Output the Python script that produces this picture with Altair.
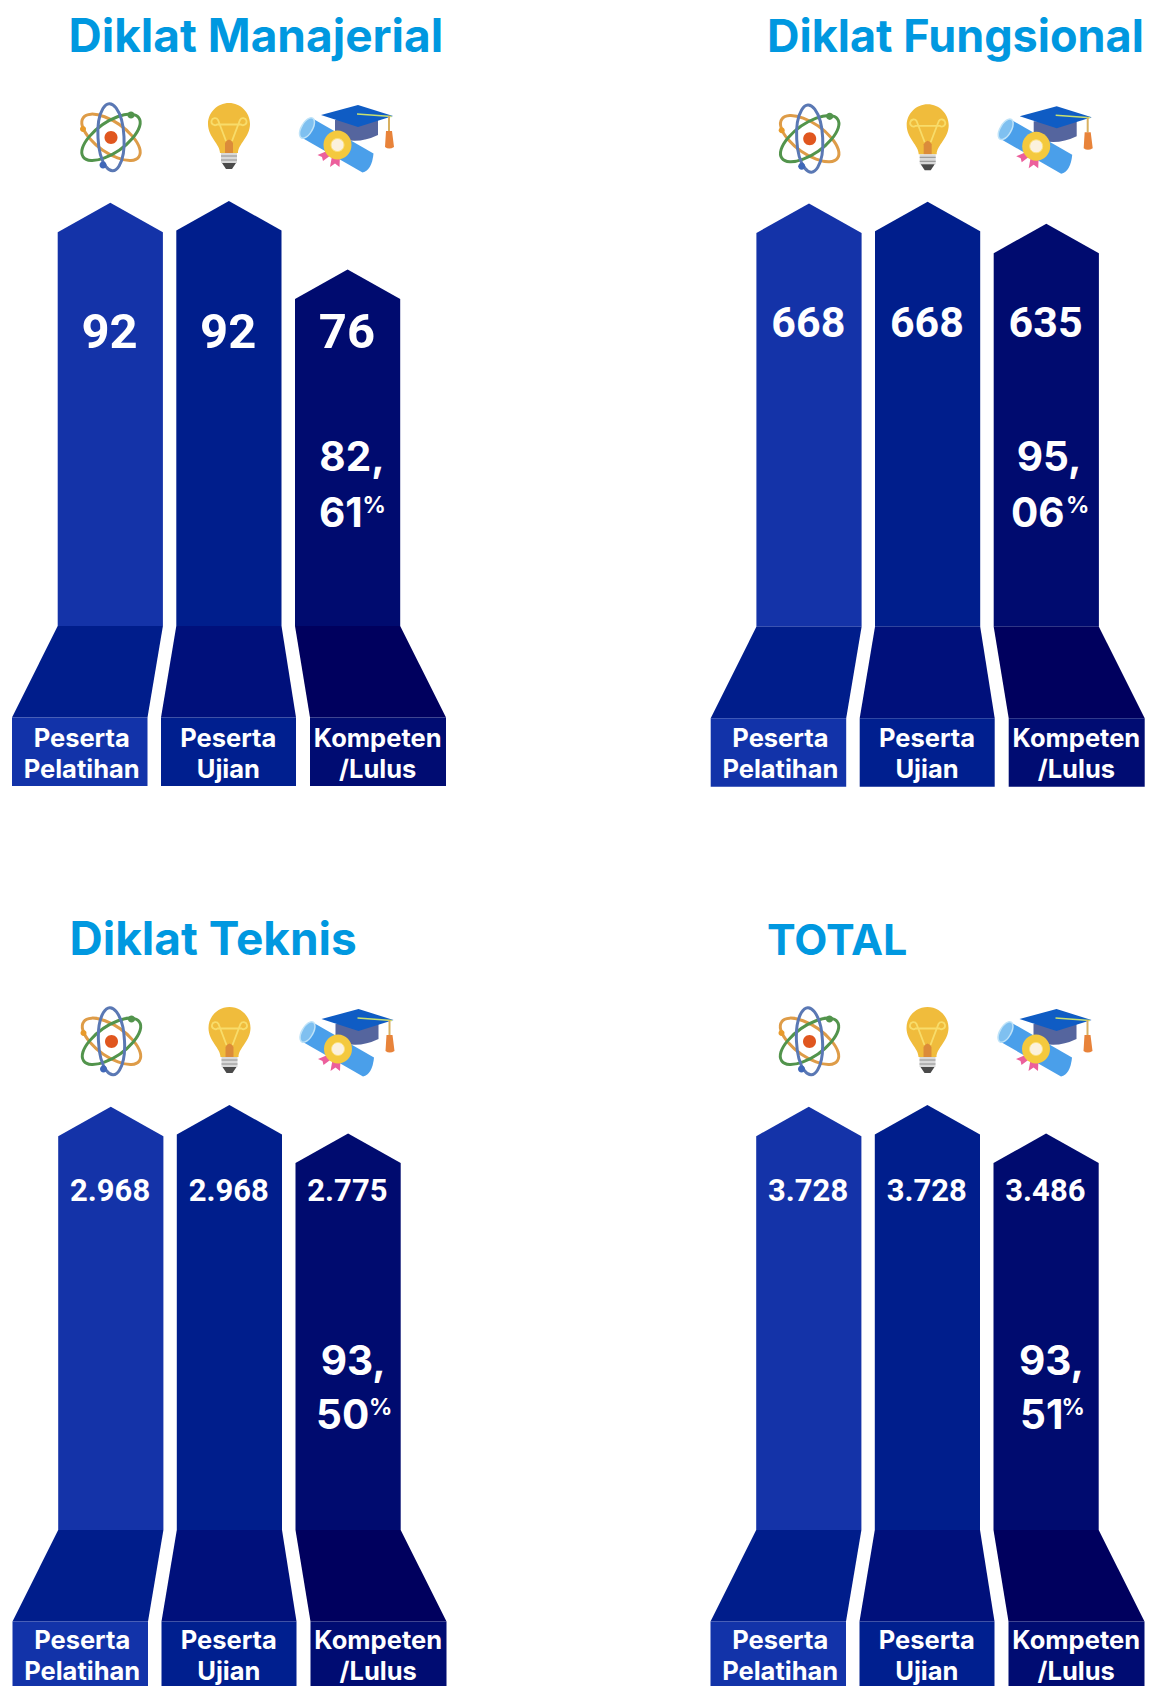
import math
import altair as alt
import pandas as pd

# ---- content ----
panel_titles = ["Diklat Manajerial", "Diklat Fungsional", "Diklat Teknis", "TOTAL"]
peserta_pelatihan = ["92", "668", "2.968", "3.728"]
peserta_ujian = ["92", "668", "2.968", "3.728"]
kompeten = ["76", "635", "2.775", "3.486"]
pct_line1 = ["82,", "95,", "93,", "93,"]
pct_line2 = ["61", "06", "50", "51"]
share_of_peserta = [84.1, 95.06, 93.5, 93.5]   # height of the third arrow
label_line1 = ["Peserta", "Peserta", "Kompeten"]
label_line2 = ["Pelatihan", "Ujian", "/Lulus"]

# ---- layout ----
panel_dx = [0, 698.7, 0.5, 698.5]
panel_dy = [0, 0.7, 903.4, 903.4]
value_size = [49, 43, 31, 31]
value_base = [348, 336.5, 1201, 1201]
title_size = [46, 45, 46, 43]
title_left = [68.5, 767, 69.5, 767]
title_base = [52.2, 52.2, 954.5, 954.5]
pct1_left = [319.3, 1016.7, 320.7, 1019]
pct2_left = [319, 1011, 316, 1020]
pctm_left = [362.5, 1066, 369, 1061.5]
bar_left = [57.7, 176.3, 295]
bar_w = 105.2
foot_left = [12, 161, 310]
foot_right = [147.5, 296, 446]
label_c = [81.7, 228.3, 377.7]
BASE, HEAD, PX_PER_PCT = 626.0, 29.5, 4.24
FOOT_TOP, FOOT_BOT = 717.5, 786.0
col_bar = ["#1433A8", "#001E8C", "#000B6F"]
col_foot = ["#001D8B", "#00107B", "#00005E"]
col_rect = ["#1233A9", "#001F8F", "#000C72"]
TITLE_BLUE = "#0098E0"
FONT = "Inter"
VALUE_FONT = "Roboto"

arrows, feet, rects, titles, values, pcts, pctm, labels = [], [], [], [], [], [], [], []
for p in range(4):
    dx, dy = panel_dx[p], panel_dy[p]
    low = 0.6 if p >= 2 else 0
    titles.append(dict(x=title_left[p], y=title_base[p], t=panel_titles[p], size=title_size[p]))
    shares = [100, 100, share_of_peserta[p]]
    cols = [peserta_pelatihan[p], peserta_ujian[p], kompeten[p]]
    for c in range(3):
        l = bar_left[c] + dx
        tip = BASE + dy - shares[c] * PX_PER_PCT - (1 if c == 1 else 0) + (0.7 if c == 0 else 0) + low
        for px, py in [(l, tip + HEAD), (l + bar_w / 2, tip), (l + bar_w, tip + HEAD)]:
            arrows.append(dict(id=f"{p}{c}", x=px, y=py, y2=BASE + dy + low, fill=col_bar[c]))
        feet.append(dict(id=f"{p}{c}", y=BASE + dy + low, x=l, x2=l + bar_w, fill=col_foot[c]))
        feet.append(dict(id=f"{p}{c}", y=FOOT_TOP + dy + low, x=foot_left[c] + dx, x2=foot_right[c] + dx, fill=col_foot[c]))
        rects.append(dict(x=foot_left[c] + dx, x2=foot_right[c] + dx, y=FOOT_TOP + dy + low, y2=FOOT_BOT + dy + low, fill=col_rect[c]))
        values.append(dict(x=l + bar_w / 2 - 0.7, y=value_base[p], t=cols[c], size=value_size[p]))
        labels.append(dict(x=label_c[c] + dx, y=746.7 + dy - 2 * low, t=label_line1[c]))
        labels.append(dict(x=label_c[c] + dx, y=777.7 + dy - 2 * low, t=label_line2[c]))
    pct_y1 = 470.7 if p < 2 else 1375
    pct_y2 = 526.7 if p < 2 else 1428.5
    pcts.append(dict(x=pct1_left[p], y=pct_y1, t=pct_line1[p]))
    pcts.append(dict(x=pct2_left[p], y=pct_y2, t=pct_line2[p]))
    pctm.append(dict(x=pctm_left[p], y=pct_y2 - 13.5, t="%"))


# ---- icon glyphs: symbol paths in panel pixels, drawn at unit symbol scale ----
def ell(cx, cy, rx, ry, rot):
    a = math.radians(rot)
    ax, ay = rx * math.cos(a), rx * math.sin(a)
    return (f"M{cx-ax:.2f} {cy-ay:.2f} A{rx} {ry} {rot} 1 1 {cx+ax:.2f} {cy+ay:.2f} "
            f"A{rx} {ry} {rot} 1 1 {cx-ax:.2f} {cy-ay:.2f} Z")


NONE = "transparent"
icon_parts = [
    # atom
    (ell(111, 137.3, 34, 15, 35), NONE, "#DE9C48", 3),
    (ell(111, 137.3, 34, 15, -35), NONE, "#52944C", 3),
    (ell(111, 137.3, 13, 33, -3), NONE, "#5A78B4", 3),
    (ell(111, 137.5, 6.5, 6.5, 0), "#E0561F", NONE, 0),
    (ell(131, 115, 3.6, 3.6, 0), "#52944C", NONE, 0),
    (ell(83, 129, 3, 3, 0), "#E89A2A", NONE, 0),
    (ell(103, 165, 3.5, 3.5, 0), "#3F67B8", NONE, 0),
    # bulb
    ("M220 153 C220 144 208 137 208 124 A21 21 0 1 1 250 124 C250 137 238 144 238 153 Z", "#F0BC3C", NONE, 0),
    ("M226 141 L218 120 a3.5 3.5 0 1 0 -1 4.5 H241 a3.5 3.5 0 1 0 -1 -4.5 L232 141", NONE, "#F8DC6A", 1.8),
    ("M225 153 V143 Q229 136 233 143 V153 Z", "#DB8B3A", NONE, 0),
    ("M221 153 H237 V163 H221 Z", "#D9D9D9", NONE, 0),
    ("M221 156 H237 M221 160 H237", NONE, "#8E8E8E", 1),
    ("M222 163 H236 L232 169 H226 Z", "#4A4A4A", NONE, 0),
    # cap
    ("M335 120 V136 Q355 146 378 135 V120 Z", "#55659E", NONE, 0),
    ("M321 115 L358 105 L393 116 L358 127 Z", "#0F5CC4", NONE, 0),
    ("M357 114 L391.5 116.5", NONE, "#C8E070", 1.5),
    ("M389 116 V131", NONE, "#D8B060", 2),
    ("M386 131 H392 L394 147 Q389 150 385 147 Z", "#E8833A", NONE, 0),
    # diploma
    ("M312.5 118.5 L373.5 153.5 Q372 170 362.5 172.5 L301.5 137.5 Z", "#4A9FEA", NONE, 0),
    (ell(307, 128, 5.5, 11, 30), "#7FC0F0", "#BFE3F8", 1.5),
    ("M327 151 L317.5 155 L322 157 L323 161 L331 155 Z", "#EC5F9C", NONE, 0),
    ("M332 156 L330 167 L335 163.5 L339.5 167 L340 155 Z", "#EC5F9C", NONE, 0),
    (ell(337.5, 145, 14, 14.5, 0), "#F4C93E", NONE, 0),
    (ell(337.5, 145, 6.5, 6.5, 0), "#FBF1DE", "#FDE27A", 1),
]
icons = []
for p in range(4):
    for k, (path, fill, stroke, sw) in enumerate(icon_parts):
        icons.append(dict(k=k, x=panel_dx[p], y=panel_dy[p] + (0.6 if p else 0), path=path, fill=fill, stroke=stroke, sw=sw))

X = alt.X("x:Q", scale=alt.Scale(domain=[8, 1147], nice=False, zero=False), axis=None)
Y = alt.Y("y:Q", scale=alt.Scale(domain=[8, 1686], nice=False, zero=False, reverse=True), axis=None)
FILL = alt.Fill("fill:N", scale=None)

arrow_layer = alt.Chart(pd.DataFrame(arrows)).mark_area(orient="vertical", opacity=1, interpolate="linear").encode(
    x=X, y=Y, y2="y2:Q", fill=FILL, detail="id:N")
foot_layer = alt.Chart(pd.DataFrame(feet)).mark_area(orient="horizontal", opacity=1, interpolate="linear").encode(
    y=Y, x=X, x2="x2:Q", fill=FILL, detail="id:N")
rect_layer = alt.Chart(pd.DataFrame(rects)).mark_rect(opacity=1).encode(x=X, x2="x2:Q", y=Y, y2="y2:Q", fill=FILL)

icon_layer = alt.Chart(pd.DataFrame(icons)).mark_point(filled=True, opacity=1, clip=False).encode(
    x=X, y=Y,
    shape=alt.Shape("path:N", scale=None),
    size=alt.value(4),
    fill=FILL,
    stroke=alt.Stroke("stroke:N", scale=None),
    strokeWidth=alt.StrokeWidth("sw:Q", scale=None),
)

title_layer = alt.Chart(pd.DataFrame(titles)).mark_text(
    align="left", baseline="alphabetic", font=FONT, fontWeight=700, color=TITLE_BLUE
).encode(x=X, y=Y, text="t:N", size=alt.Size("size:Q", scale=None))
value_layer = alt.Chart(pd.DataFrame(values)).mark_text(
    align="center", baseline="alphabetic", font=VALUE_FONT, fontWeight=700, color="white"
).encode(x=X, y=Y, text="t:N", size=alt.Size("size:Q", scale=None))
pct_layer = alt.Chart(pd.DataFrame(pcts)).mark_text(
    align="left", baseline="alphabetic", font=FONT, fontWeight=700, fontSize=40.5, color="white"
).encode(x=X, y=Y, text="t:N")
pctm_layer = alt.Chart(pd.DataFrame(pctm)).mark_text(
    align="left", baseline="alphabetic", font=FONT, fontWeight=700, fontSize=23, color="white"
).encode(x=X, y=Y, text="t:N")
label_layer = alt.Chart(pd.DataFrame(labels)).mark_text(
    align="center", baseline="alphabetic", font=FONT, fontWeight=700, fontSize=25.5, color="white"
).encode(x=X, y=Y, text="t:N")

chart = alt.layer(
    arrow_layer, foot_layer, rect_layer, icon_layer,
    title_layer, value_layer, pct_layer, pctm_layer, label_layer,
).properties(
    width=1139, height=1678, padding=0,
    autosize=alt.AutoSizeParams(type="none"),
    background="white",
).configure_view(stroke=None)

chart.save("out.html", embed_options={"renderer": "svg", "actions": False})
